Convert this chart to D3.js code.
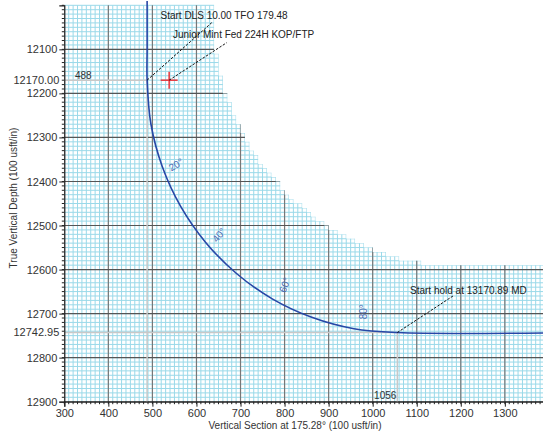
<!DOCTYPE html>
<html>
<head>
<meta charset="utf-8">
<script src="https://cdn.jsdelivr.net/npm/d3@7"></script>
<style>
  html, body { margin: 0; padding: 0; background: #fff; overflow: hidden; }
  text { font-family: "Liberation Sans", Arial, sans-serif; }
</style>
</head>
<body>
<script>
// well path in the vertical section (vs, tvd), one point per 10 deg of inclination
var pathVS  = [488, 488, 488, 496.6, 522.3, 564.1, 620.9, 690.9, 772.0, 861.7, 957.4, 1056, 1390];
var pathTVD = [11990, 12100, 12170, 12269.5, 12366, 12456.5, 12538.3, 12608.9, 12666.5, 12708.4, 12734.3, 12742.95, 12744];

var incLabels = ["20°", "40°", "60°", "80°"];
var incVS  = [553.6, 651.5, 800.5, 979.6];
var incTVD = [12361.7, 12521.6, 12635, 12695.7];
var incRot = [-30, -50, -70, -90];

var xTicks = [300, 400, 500, 600, 700, 800, 900, 1000, 1100, 1200, 1300];
var yTicks = [12100, 12200, 12300, 12400, 12500, 12600, 12700, 12800, 12900];

var kopVS = 488, kopTVD = 12170.00;
var holdVS = 1056, holdTVD = 12742.95;
var targetVS = 538, targetTVD = 12170;

var W = 543, H = 431;
var x = d3.scaleLinear().domain([300, 1400]).range([64.3, 548.9]);
var y = d3.scaleLinear().domain([12000, 12900]).range([5.3, 401.7]);

var svg = d3.select("body").append("svg")
  .attr("width", W)
  .attr("height", H);

var line = d3.line()
  .x(function(d) { return x(d[0]); })
  .y(function(d) { return y(d[1]); })
  .curve(d3.curveCatmullRom.alpha(0.5));
var pts = pathVS.map(function(v, i) { return [v, pathTVD[i]]; });

// hidden copy of the path, used to sample it for the grid outline
var probe = svg.append("path").attr("d", line(pts)).attr("fill", "none").attr("stroke", "none");
var node = probe.node(), len = node.getTotalLength();
var samples = [];
for (var s = 0; s <= len; s += 1) samples.push(node.getPointAtLength(s));

// grid only shows below/left of the path shifted up-right by 150 usft
var buf = x(450) - x(300);
var cell = x(310) - x(300);
var outline = [[x(300), y(12900)]];
for (var cx = 300; cx < 1400; cx += 10) {
  var x0 = x(cx), x1 = x(cx + 10), mid = (x0 + x1) / 2;
  var top = -50;
  samples.forEach(function(p) {
    if (Math.abs(p.x - mid) <= buf) top = Math.max(top, -1e9);
  });
  var best = 1e9;
  samples.forEach(function(p) {
    if (Math.abs(p.x - mid) <= buf) best = Math.min(best, p.y - buf);
  });
  if (best === 1e9 || mid < samples[0].x + buf) best = -50;
  var snapped = best < 0 ? -50 : y(12000) + Math.round((best - y(12000)) / cell) * cell;
  outline.push([x0, snapped], [x1, snapped]);
}
outline.push([x(1400), y(12900)]);

svg.append("clipPath").attr("id", "gridclip")
  .append("path")
  .attr("d", "M" + outline.map(function(p) { return p.join(","); }).join("L") + "Z");

var grid = svg.append("g").attr("clip-path", "url(#gridclip)");

grid.selectAll(".vminor")
  .data(d3.range(300, 1401, 10))
  .enter().append("line")
  .attr("x1", function(d) { return x(d); })
  .attr("x2", function(d) { return x(d); })
  .attr("y1", y(12000))
  .attr("y2", y(12900))
  .attr("stroke", "#9ad9e9")
  .attr("stroke-width", 1);

grid.selectAll(".hminor")
  .data(d3.range(12000, 12901, 10))
  .enter().append("line")
  .attr("x1", x(300))
  .attr("x2", x(1400))
  .attr("y1", function(d) { return y(d); })
  .attr("y2", function(d) { return y(d); })
  .attr("stroke", "#9ad9e9")
  .attr("stroke-width", 1);

grid.selectAll(".vmajor")
  .data(xTicks)
  .enter().append("line")
  .attr("x1", function(d) { return x(d); })
  .attr("x2", function(d) { return x(d); })
  .attr("y1", y(12000))
  .attr("y2", y(12900))
  .attr("stroke", "#777")
  .attr("stroke-width", 1.2);

grid.selectAll(".hmajor")
  .data(yTicks)
  .enter().append("line")
  .attr("x1", x(300))
  .attr("x2", x(1400))
  .attr("y1", function(d) { return y(d); })
  .attr("y2", function(d) { return y(d); })
  .attr("stroke", "#555")
  .attr("stroke-width", 1.2);

// reference lines for KOP and start of hold
var ref = svg.append("g").attr("stroke", "#c8c8c8").attr("stroke-width", 1.5);
ref.append("line").attr("x1", x(300)).attr("x2", x(kopVS)).attr("y1", y(kopTVD)).attr("y2", y(kopTVD));
ref.append("line").attr("x1", x(kopVS)).attr("x2", x(kopVS)).attr("y1", y(kopTVD)).attr("y2", y(12900));
ref.append("line").attr("x1", x(300)).attr("x2", x(holdVS)).attr("y1", y(holdTVD)).attr("y2", y(holdTVD));
ref.append("line").attr("x1", x(holdVS)).attr("x2", x(holdVS)).attr("y1", y(holdTVD)).attr("y2", y(12900));

// axes
var xAxis = d3.axisBottom(x).tickValues(xTicks).tickSize(5).tickPadding(3).tickFormat(d3.format("d"));
var gx = svg.append("g").attr("transform", "translate(0," + y(12900) + ")").call(xAxis);
gx.selectAll(".minor").data(d3.range(300, 1400, 10)).enter().append("line")
  .attr("x1", function(d) { return x(d); }).attr("x2", function(d) { return x(d); })
  .attr("y1", 0).attr("y2", 2.5).attr("stroke", "#222");

var yAxis = d3.axisLeft(y).tickValues(yTicks).tickSize(5).tickPadding(2).tickFormat(d3.format("d"));
var gy = svg.append("g").attr("transform", "translate(" + x(300) + ",0)").call(yAxis);
gy.selectAll(".minor").data(d3.range(12000, 12900, 10)).enter().append("line")
  .attr("x1", 0).attr("x2", -2.5)
  .attr("y1", function(d) { return y(d); }).attr("y2", function(d) { return y(d); })
  .attr("stroke", "#222");

[gx, gy].forEach(function(g) {
  g.select(".domain").attr("stroke", "#222").attr("stroke-width", 1.2);
  g.selectAll(".tick line").attr("stroke", "#222");
  g.selectAll(".tick text").attr("fill", "#333").style("font-size", "11px")
    .style("font-family", "Liberation Sans, Arial, sans-serif");
});

gy.append("text").attr("x", -5).attr("y", y(kopTVD)).attr("dy", "0.32em")
  .attr("text-anchor", "end").attr("fill", "#333").style("font-size", "11px")
  .text(kopTVD.toFixed(2));
gy.append("text").attr("x", -5).attr("y", y(holdTVD)).attr("dy", "0.32em")
  .attr("text-anchor", "end").attr("fill", "#333").style("font-size", "11px")
  .text(holdTVD.toFixed(2));

svg.append("text").attr("x", 295).attr("y", 429)
  .attr("text-anchor", "middle").attr("fill", "#333").style("font-size", "10px")
  .text("Vertical Section at 175.28° (100 usft/in)");
svg.append("text").attr("transform", "translate(17,198) rotate(-90)")
  .attr("text-anchor", "middle").attr("fill", "#333").style("font-size", "10px")
  .text("True Vertical Depth (100 usft/in)");

// well path
svg.append("path").attr("d", line(pts))
  .attr("fill", "none").attr("stroke", "#2747a6").attr("stroke-width", 1.6);

svg.selectAll(".inc")
  .data(incLabels)
  .enter().append("text")
  .attr("transform", function(d, i) {
    return "translate(" + x(incVS[i]) + "," + y(incTVD[i]) + ") rotate(" + incRot[i] + ")";
  })
  .attr("text-anchor", "middle").attr("dy", "0.35em")
  .attr("fill", "#4f6db3").style("font-size", "10px")
  .text(function(d) { return d; });

// target cross
svg.append("line").attr("x1", x(targetVS) - 8.5).attr("x2", x(targetVS) + 8.5)
  .attr("y1", y(targetTVD)).attr("y2", y(targetTVD)).attr("stroke", "#e8343a").attr("stroke-width", 1.5);
svg.append("line").attr("x1", x(targetVS)).attr("x2", x(targetVS))
  .attr("y1", y(targetTVD) - 8.5).attr("y2", y(targetTVD) + 8.5).attr("stroke", "#e8343a").attr("stroke-width", 1.5);

// annotations
var notes = svg.append("g");
function note(px, py, lx, ly, tx, ty, txt) {
  notes.append("line").attr("x1", px).attr("y1", py).attr("x2", lx).attr("y2", ly)
    .attr("stroke", "#111").attr("stroke-width", 1).attr("stroke-dasharray", "2.5,1.5");
  notes.append("text").attr("x", tx).attr("y", ty).attr("fill", "#222")
    .style("font-size", "10px").text(txt);
}
note(x(kopVS), y(kopTVD), 211.7, 22.7, 160.5, 19, "Start DLS 10.00 TFO 179.48");
note(x(targetVS), y(targetTVD), 226.7, 42.7, 173, 38, "Junior Mint Fed 224H KOP/FTP");
note(x(holdVS), y(holdTVD), 453, 296, 410, 293.5, "Start hold at 13170.89 MD");

svg.append("text").attr("x", 75).attr("y", 79).attr("fill", "#333").style("font-size", "10px")
  .text(kopVS);
svg.append("text").attr("x", x(holdVS) - 1).attr("y", 399).attr("text-anchor", "end")
  .attr("fill", "#333").style("font-size", "10px").text(holdVS);
</script>
</body>
</html>
